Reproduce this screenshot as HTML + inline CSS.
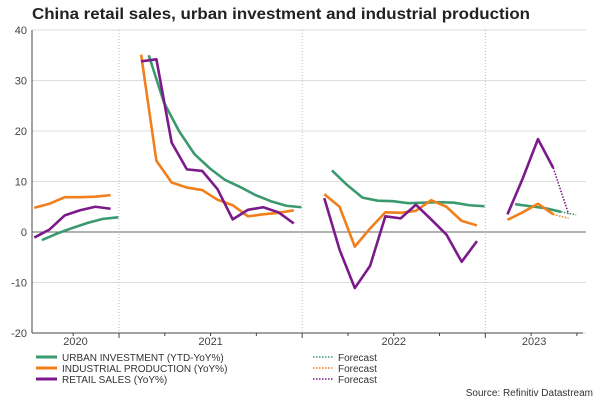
<!DOCTYPE html>
<html><head><meta charset="utf-8"><style>
body{margin:0;background:#fff;}
svg{display:block;font-family:"Liberation Sans",sans-serif;}
</style></head><body>
<svg id="chart" width="600" height="400">
<text x="32" y="19" font-size="16" font-weight="bold" fill="#222" textLength="498" lengthAdjust="spacingAndGlyphs">China retail sales, urban investment and industrial production</text>
<g id="grid"></g><g id="axes"></g><g id="series"></g>
<g id="legend" font-size="10" fill="#333">
<line x1="36" y1="357" x2="57" y2="357" stroke="#3a9a6e" stroke-width="3"/>
<text x="62" y="361">URBAN INVESTMENT (YTD-YoY%)</text>
<line x1="36" y1="368" x2="57" y2="368" stroke="#f07f1c" stroke-width="3"/>
<text x="62" y="372">INDUSTRIAL PRODUCTION (YoY%)</text>
<line x1="36" y1="379" x2="57" y2="379" stroke="#7b1a8a" stroke-width="3"/>
<text x="62" y="383">RETAIL SALES (YoY%)</text>
<line x1="313" y1="357" x2="333" y2="357" stroke="#3a9a6e" stroke-width="1.5" stroke-dasharray="1.5,1.5"/>
<text x="338" y="361">Forecast</text>
<line x1="313" y1="368" x2="333" y2="368" stroke="#f07f1c" stroke-width="1.5" stroke-dasharray="1.5,1.5"/>
<text x="338" y="372">Forecast</text>
<line x1="313" y1="379" x2="333" y2="379" stroke="#7b1a8a" stroke-width="1.5" stroke-dasharray="1.5,1.5"/>
<text x="338" y="383">Forecast</text>
<text x="593" y="396" text-anchor="end">Source: Refinitiv Datastream</text>
</g>
</svg>
<script>
// month index: Jan 2020 = 0
const yTicks = [40, 30, 20, 10, 0, -10, -20];
const years = ["2020", "2021", "2022", "2023"];
const yearStart = [0, 12, 24, 36];

const fai2020 = [-1.6, -0.3, 0.8, 1.8, 2.6, 2.9];
const fai2021 = [35.0, 25.6, 19.9, 15.4, 12.6, 10.3, 8.9, 7.3, 6.1, 5.2, 4.9];
const fai2022 = [12.2, 9.3, 6.8, 6.2, 6.1, 5.7, 5.8, 5.9, 5.8, 5.3, 5.1];
const fai2023 = [5.5, 5.1, 4.7, 4.0];
const faiForecast = [4.0, 3.4];

const ip2020 = [4.8, 5.6, 6.9, 6.9, 7.0, 7.3];
const ip2021 = [35.1, 14.1, 9.8, 8.8, 8.3, 6.4, 5.3, 3.1, 3.5, 3.8, 4.3];
const ip2022 = [7.5, 5.0, -2.9, 0.7, 3.9, 3.8, 4.2, 6.3, 5.0, 2.2, 1.3];
const ip2023 = [2.4, 3.9, 5.6, 3.5];
const ipForecast = [3.5, 2.7];

const rs2020 = [-1.1, 0.5, 3.3, 4.3, 5.0, 4.6];
const rs2021 = [33.8, 34.2, 17.7, 12.4, 12.1, 8.5, 2.5, 4.4, 4.9, 3.9, 1.7];
const rs2022 = [6.7, -3.5, -11.1, -6.7, 3.1, 2.7, 5.4, 2.5, -0.5, -5.9, -1.8];
const rs2023 = [3.5, 10.6, 18.4, 12.7];
const rsForecast = [12.7, 3.6];

const X0 = 32, X1 = 583, M0 = 6.3, M1 = 42.4;
const Y0 = 30, Y1 = 333;
const xs = m => X0 + (m - M0) / (M1 - M0) * (X1 - X0);
const ys = v => Y0 + (40 - v) / 60 * (Y1 - Y0);
const NS = "http://www.w3.org/2000/svg";
function mk(tag, attrs, parent) {
  const e = document.createElementNS(NS, tag);
  for (const k in attrs) e.setAttribute(k, attrs[k]);
  document.getElementById(parent).appendChild(e);
  return e;
}
// grid
yTicks.forEach(v => {
  const l = mk("line", {x1: X0, x2: 586, y1: ys(v), y2: ys(v), stroke: v === 0 ? "#666" : "#ddd", "stroke-width": 1}, "grid");
  
  
  const t = mk("text", {x: 27, y: ys(v) + 4, "text-anchor": "end", "font-size": 11, fill: "#444"}, "axes");
  t.textContent = v;
  
  
});
yearStart.slice(1).forEach(m => {
  const l = mk("line", {x1: xs(m), x2: xs(m), y1: Y0, y2: Y1, stroke: "#bbb", "stroke-width": 1, "stroke-dasharray": "1,2"}, "grid");
  
  
});
// axes
let a = mk("line", {x1: X0, x2: X0, y1: Y0, y2: Y1, stroke: "#444"}, "axes");
 
a = mk("line", {x1: X0, x2: X1, y1: Y1, y2: Y1, stroke: "#444"}, "axes");
 
for (let m = 9; m <= 42; m += 3) {
  const tk = mk("line", {x1: xs(m), x2: xs(m), y1: Y1, y2: Y1 + (m % 12 === 0 ? 5 : 3), stroke: "#444"}, "axes");
  
  
}
years.forEach((y, i) => {
  const a0 = Math.max(yearStart[i], M0), a1 = Math.min(yearStart[i] + 12, M1);
  const t = mk("text", {x: xs((a0 + a1) / 2), y: 345, "text-anchor": "middle", "font-size": 11, fill: "#444"}, "axes");
  t.textContent = y;
  
  
});
function line(vals, startM, color, name, dashed) {
  const pts = vals.map((v, i) => xs(startM + i) + "," + ys(v)).join(" ");
  const p = mk("polyline", {points: pts, fill: "none", stroke: color, "stroke-width": dashed ? 1.6 : 2.6, "stroke-linejoin": "round"}, "series");
  if (dashed) p.setAttribute("stroke-dasharray", "1.5,1.5");
  
  
}
const G = "#3a9a6e", O = "#f07f1c", P = "#7b1a8a";
line(fai2020, 6.95, G, "urban-investment-2020");
line(fai2021, 13.95, G, "urban-investment-2021");
line(fai2022, 25.95, G, "urban-investment-2022");
line(fai2023, 37.95, G, "urban-investment-2023");
line(faiForecast, 40.95, G, "urban-investment-forecast", true);
line(ip2020, 6.45, O, "industrial-production-2020");
line(ip2021, 13.45, O, "industrial-production-2021");
line(ip2022, 25.45, O, "industrial-production-2022");
line(ip2023, 37.45, O, "industrial-production-2023");
line(ipForecast, 40.45, O, "industrial-production-forecast", true);
line(rs2020, 6.45, P, "retail-sales-2020");
line(rs2021, 13.45, P, "retail-sales-2021");
line(rs2022, 25.45, P, "retail-sales-2022");
line(rs2023, 37.45, P, "retail-sales-2023");
line(rsForecast, 40.45, P, "retail-sales-forecast", true);
</script>
</body></html>
